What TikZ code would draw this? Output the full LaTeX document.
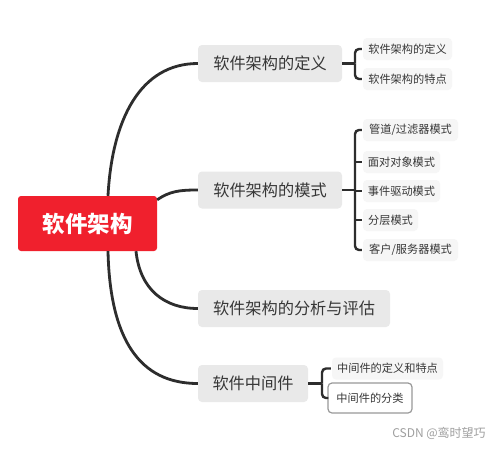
\documentclass[tikz,border=0pt]{standalone}
\usepackage{fontspec}
\newfontfamily\cjk{Noto Sans CJK SC}
\definecolor{rootred}{RGB}{240,32,45}
\definecolor{linec}{RGB}{45,45,45}
\definecolor{boxg}{RGB}{233,233,233}
\definecolor{subg}{RGB}{246,246,246}
\definecolor{txt}{RGB}{55,55,55}
\begin{document}
\begin{tikzpicture}[x=1pt,y=-1pt,
  rootbox/.style={fill=rootred,rounded corners=3pt,text=white,font=\cjk\bfseries\fontsize{22.5}{24}\selectfont,minimum width=139pt,minimum height=55pt,inner sep=0pt},
  branchbox/.style={fill=boxg,rounded corners=4pt,text=txt,font=\cjk\fontsize{16.2}{18}\selectfont,minimum height=37pt,inner sep=0pt},
  subbox/.style={fill=subg,rounded corners=4pt,text=txt,font=\cjk\fontsize{11.2}{12}\selectfont,minimum height=22pt,inner sep=0pt},
  conn/.style={draw=linec,line width=2.8pt},
  brace/.style={draw=linec,line width=2.4pt,rounded corners=4pt}
]
\useasboundingbox (0,0) rectangle (500,448);
\fill[white] (0,0) rectangle (500,448);

\node[rootbox] (root) at (87.5,223.5) {软件架构};

\node[branchbox,minimum width=144pt] (b1) at (270,63.5) {软件架构的定义};
\node[branchbox,minimum width=144pt] (b2) at (270,190) {软件架构的模式};
\node[branchbox,minimum width=192pt] (b3) at (294,308.5) {软件架构的分析与评估};
\node[branchbox,minimum width=110pt] (b4) at (253,383.5) {软件中间件};

\node[subbox,minimum width=89pt] (s11) at (407.5,49) {软件架构的定义};
\node[subbox,minimum width=89pt] (s12) at (407.5,79) {软件架构的特点};

\node[subbox,minimum width=95pt] (s21) at (410.5,130) {管道/过滤器模式};
\node[subbox,minimum width=77pt] (s22) at (401.5,162) {面对对象模式};
\node[subbox,minimum width=77pt] (s23) at (401.5,191) {事件驱动模式};
\node[subbox,minimum width=55pt] (s24) at (390.5,220) {分层模式};
\node[subbox,minimum width=95pt] (s25) at (410.5,250) {客户/服务器模式};

\node[subbox,minimum width=111pt] (s41) at (387.5,368.5) {中间件的定义和特点};
\node[subbox,fill=white,draw=gray!80,line width=1.2pt,minimum width=84pt,minimum height=30pt] (s42) at (370,398) {中间件的分类};

% main connectors
\draw[conn] ([xshift=20.5pt]root.north) .. controls (112,120) and (140,63.5) .. (b1.west);
\draw[conn] ([yshift=-4pt]root.north east) .. controls (170,191) and (180,190) .. (b2.west);
\draw[conn] ([xshift=48.5pt]root.south) .. controls (140,290) and (165,308.5) .. (b3.west);
\draw[conn] ([xshift=20.5pt]root.south) .. controls (110,340) and (140,383.5) .. (b4.west);

% braces
\coordinate (j1) at (355,63.5);
\draw[brace] (b1.east) -- (j1);
\draw[brace] (j1) |- ([xshift=-1pt]s11.west);
\draw[brace] (j1) |- ([xshift=-1pt]s12.west);

\coordinate (j2) at (355,190);
\draw[brace] (b2.east) -- (j2);
\draw[brace] (j2) |- ([xshift=-1pt]s21.west);
\draw[brace] (j2) |- ([xshift=-1pt]s25.west);
\draw[brace] (355,162) -- ([xshift=-1pt]s22.west);
\draw[brace] (355,191) -- ([xshift=-1pt]s23.west);
\draw[brace] (355,220) -- ([xshift=-1pt]s24.west);

\coordinate (j4) at (322,383.5);
\draw[brace] (b4.east) -- (j4);
\draw[brace] (j4) |- ([xshift=-1pt]s41.west);
\draw[brace] (j4) |- ([xshift=1pt]s42.west);

\node[text=gray!75,font=\cjk\fontsize{12}{14}\selectfont,inner sep=0pt] (wm) at (439,433) {CSDN @鸾时望巧};
\end{tikzpicture}
\end{document}
